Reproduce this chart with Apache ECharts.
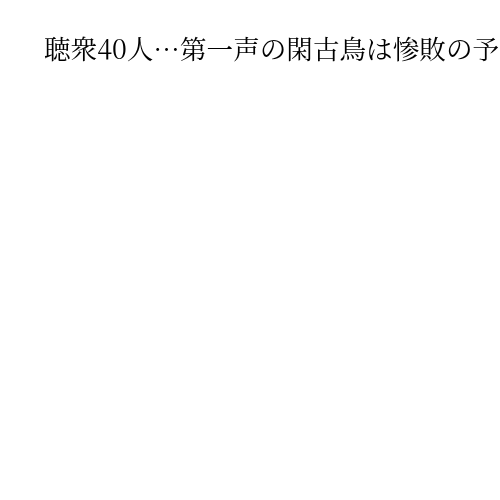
<!DOCTYPE html>
<html><head><meta charset="utf-8">
<script src="https://cdn.jsdelivr.net/npm/echarts@6/dist/echarts.min.js"></script>
<style>html,body{margin:0;padding:0;background:#fff}#c{width:500px;height:500px}</style>
</head><body><div id="c"></div>
<script>
const titleText = '聴衆40人…第一声の閑古鳥は惨敗の予兆か';
const categories = [];
const values = [];
const chart = echarts.init(document.getElementById('c'), null, {renderer:'canvas'});
chart.setOption({
  backgroundColor:'#fff',
  animation:false,
  title:{text:titleText,left:39,top:31,textStyle:{fontFamily:"'Noto Serif CJK JP', serif",fontSize:26.6,fontWeight:'normal',color:'#000'}},
  series:[]
});
</script></body></html>
